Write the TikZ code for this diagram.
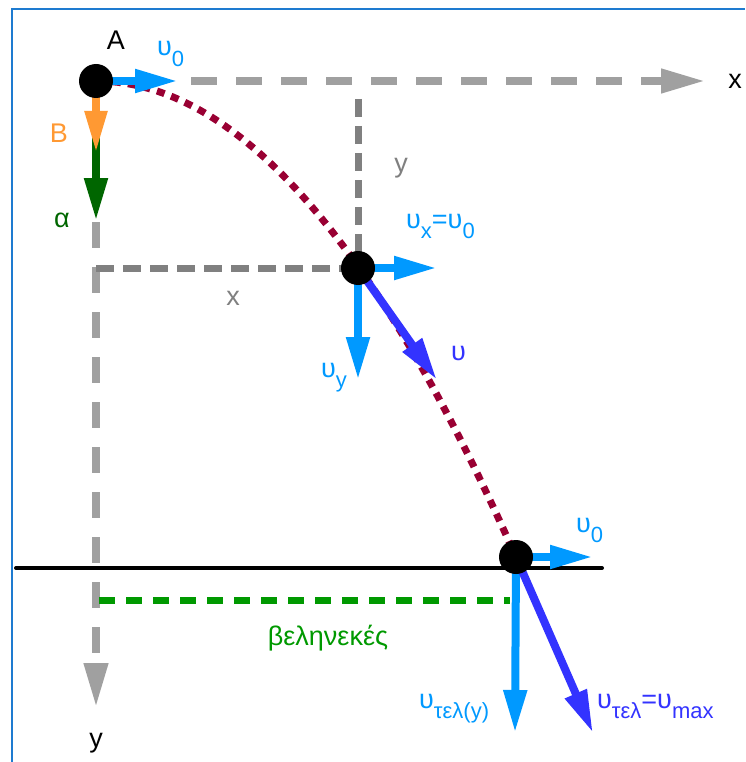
\documentclass[tikz,border=0pt]{standalone}
\usepackage{fontspec}
\setmainfont{Liberation Sans}
\usetikzlibrary{arrows.meta}
\definecolor{lblue}{HTML}{0099FF}
\definecolor{dblue}{HTML}{3333FF}
\definecolor{orng}{HTML}{FF9933}
\definecolor{dgreen}{HTML}{006600}
\definecolor{mgreen}{HTML}{009900}
\definecolor{traj}{HTML}{990033}
\definecolor{axgray}{HTML}{A0A0A0}
\definecolor{prgray}{HTML}{808080}
\definecolor{framec}{HTML}{1E7BD0}
\newcommand{\sbs}[1]{\raisebox{-0.4em}{\fontsize{22pt}{22pt}\selectfont #1}}
\begin{document}
\begin{tikzpicture}[x=1pt,y=-1pt,
  lbl/.style={font=\fontsize{27pt}{27pt}\selectfont, inner sep=0pt, anchor=base},
  lblw/.style={lbl, anchor=base west},
  dotpt/.style={circle, fill=black, minimum size=34pt, inner sep=0pt},
  vec/.style={line width=8pt, -{Triangle[length=43pt,width=22pt]}},
  axline/.style={axgray, line width=7.5pt, dash pattern=on 26pt off 19pt, -{Triangle[length=44pt,width=23pt]}},
  projline/.style={prgray, line width=7pt, dash pattern=on 18pt off 9pt},
  trajline/.style={traj, line width=7pt, dash pattern=on 8pt off 7pt},
  rangeline/.style={mgreen, line width=7pt, dash pattern=on 16pt off 11pt},
  groundline/.style={black, line width=4pt, line cap=round}]
\useasboundingbox (0,0) rectangle (745,762);
\draw[framec, line width=2pt] (12,762) -- (12,9) -- (745,9);
% key points
\coordinate (A) at (96,81);
\coordinate (M) at (358,268);
\coordinate (G) at (516,557);
% axes
\coordinate (X0) at (191,81);
\coordinate (Xend) at (705,81);
\coordinate (Y0) at (96,222);
\coordinate (Yend) at (96,707);
\draw[axline] (X0) -- (Xend);
\draw[axline] (Y0) -- (Yend);
% projections
\coordinate (Ptop) at (358,99);
\coordinate (Pleft) at (96,268);
\draw[projline] (Ptop) -- (M);
\draw[projline] (Pleft) -- (M);
% trajectory
\draw[trajline] plot[domain=0.17:4.2, samples=80] ({96+100*\x}, {81+27*\x*\x});
% ground and range
\coordinate (Gl) at (16,568);
\coordinate (Gr) at (602,568);
\draw[groundline] (Gl) -- (Gr);
\coordinate (R0) at (99,600);
\coordinate (R1) at (510,600);
\draw[rangeline] (R0) -- (R1);
% vectors at A
\coordinate (Aal) at (96,221);
\coordinate (AB) at (96,153);
\coordinate (Au) at (178,81);
\draw[vec, dgreen] (A) -- (Aal);
\draw[vec, orng, -{Triangle[length=42pt,width=21pt]}] (A) -- (AB);
\draw[vec, lblue] (A) -- (Au);
% vectors at M
\coordinate (Mx) at (437,268);
\coordinate (My) at (358,380);
\coordinate (Mv) at (437,380);
\draw[vec, lblue] (M) -- (Mx);
\draw[vec, lblue] (M) -- (My);
\draw[vec, dblue] (M) -- (Mv);
% vectors at G
\coordinate (Gx) at (593,557);
\coordinate (Gy) at (515,733);
\coordinate (Gv) at (593,733);
\draw[vec, lblue] (G) -- (Gx);
\draw[vec, lblue] (G) -- (Gy);
\draw[vec, dblue] (G) -- (Gv);
% dots
\node[dotpt] (Adot) at (A) {};
\node[dotpt] (Mdot) at (M) {};
\node[dotpt] (Gdot) at (G) {};
% labels
\node[lbl] (lA) at (116,50) {A};
\node[lblw, lblue] (lu0) at (157,56) {υ\sbs{0}};
\node[lbl] (lxax) at (735,89) {x};
\node[lbl, prgray] (ly) at (401,172) {y};
\node[lbl, orng] (lB) at (59,143) {B};
\node[lbl, dgreen] (la) at (62,227) {α};
\node[lbl, prgray] (lx) at (233,305) {x};
\node[lblw, lblue] (lux) at (406,228) {υ\sbs{x}=υ\sbs{0}};
\node[lblw, lblue] (luy) at (321,377) {υ\sbs{y}};
\node[lblw, dblue] (lv) at (451,360) {υ};
\node[lblw, lblue] (lu0g) at (576,532) {υ\sbs{0}};
\node[lbl, mgreen] (lr) at (328,645) {βεληνεκές};
\node[lblw, lblue] (luty) at (419,708) {υ\sbs{τελ(y)}};
\node[lblw, dblue] (lut) at (597,708) {υ\sbs{τελ}=υ\sbs{max}};
\node[lbl] (lyax) at (96,747) {y};
\end{tikzpicture}
\end{document}
